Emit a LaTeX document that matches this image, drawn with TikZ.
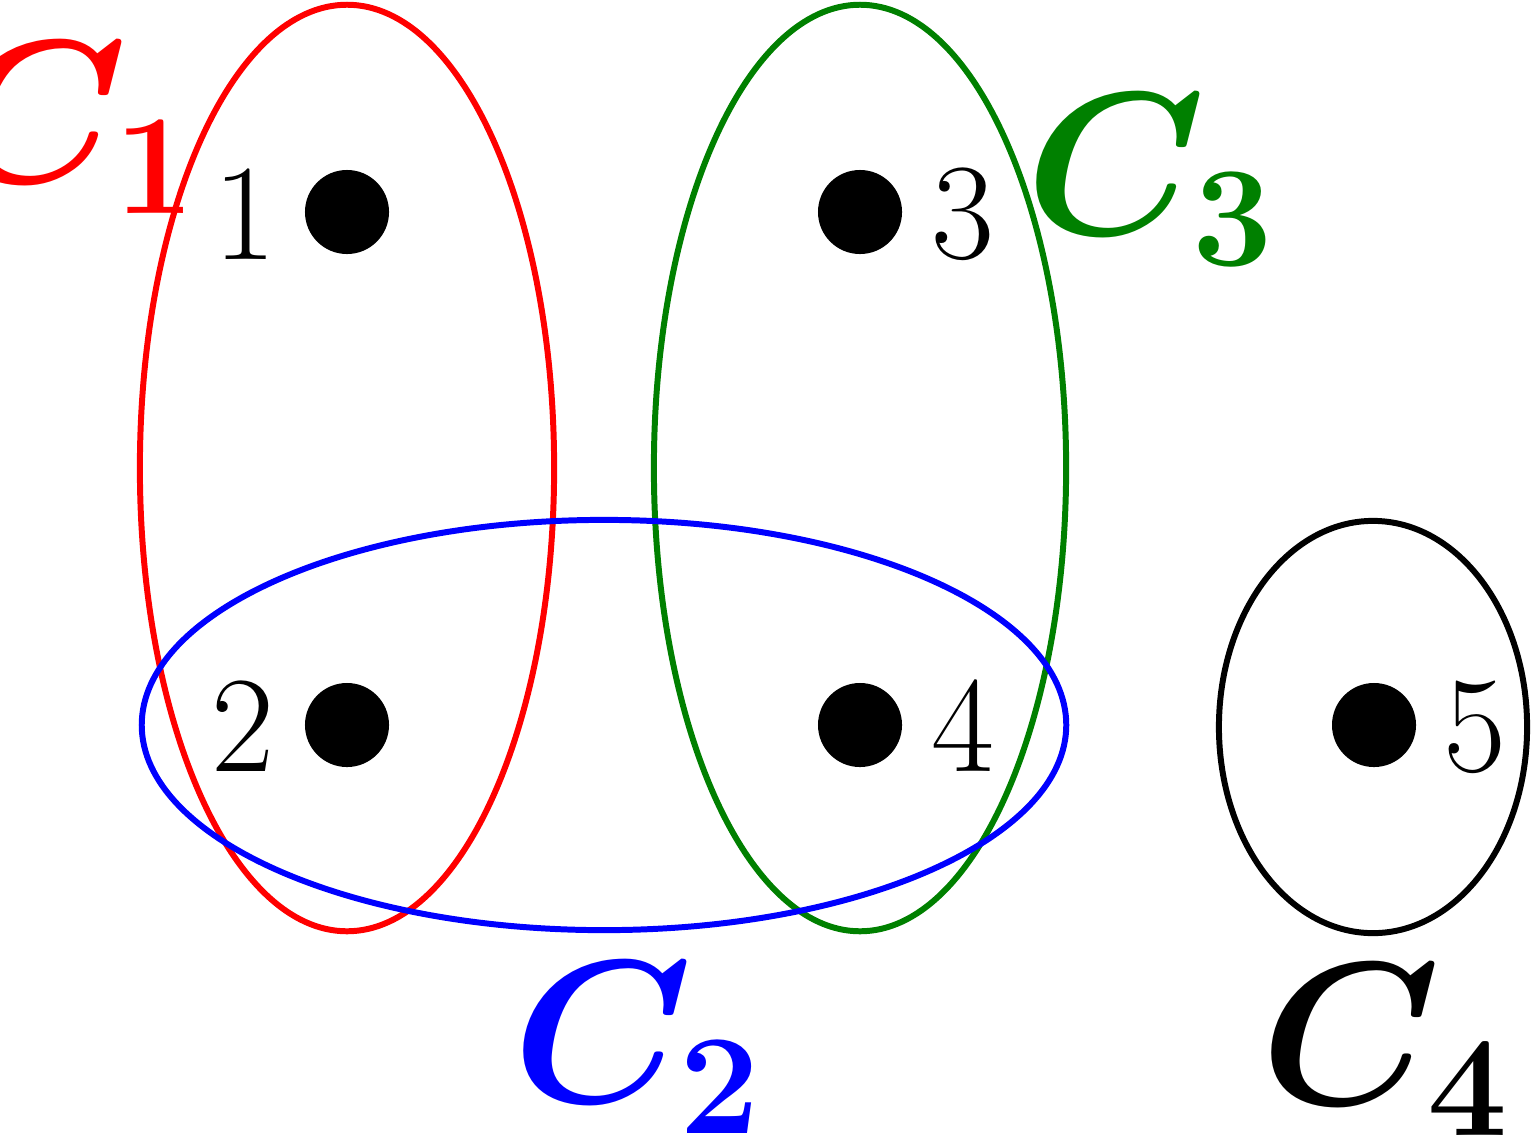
\RequirePackage{fix-cm}
\documentclass[tikz,border=0pt]{standalone}
\begin{document}
\begin{tikzpicture}[x=0.01cm,y=-0.01cm,
  ring/.style={line width=1.7pt},
  dot/.style={circle,fill=black,minimum size=0.84cm,inner sep=0pt},
  num/.style={font=\fontsize{39}{40}\selectfont,inner sep=0pt},
  lab/.style={font=\fontsize{58}{60}\selectfont\boldmath,inner sep=0pt}]
\useasboundingbox (0,0) rectangle (1534,1139);
\draw[ring,red] (347,468) ellipse [x radius=2.07cm,y radius=4.63cm];
\draw[ring,green!50!black] (860,468) ellipse [x radius=2.06cm,y radius=4.63cm];
\draw[ring,blue] (604,725) ellipse [x radius=4.62cm,y radius=2.05cm];
\draw[ring,black] (1373,727) ellipse [x radius=1.54cm,y radius=2.06cm];
\node[dot] (p1) at (347,212) {};
\node[dot] (p2) at (347,725) {};
\node[dot] (p3) at (860,212) {};
\node[dot] (p4) at (860,725) {};
\node[dot] (p5) at (1374,725) {};
\node[num] (n1) at (245,214) {1};
\node[num] (n2) at (243,726) {2};
\node[num] (n3) at (963,214) {3};
\node[num] (n4) at (963,726) {4};
\node[num] (n5) at (1475,727) {5};
\node[lab,red] (c1) at (72,128) {$C_1$};
\node[lab,green!50!black] (c3) at (1150,180) {$C_3$};
\node[lab,blue] (c2) at (637,1048) {$C_2$};
\node[lab] (c4) at (1385,1050) {$C_4$};
\end{tikzpicture}
\end{document}
